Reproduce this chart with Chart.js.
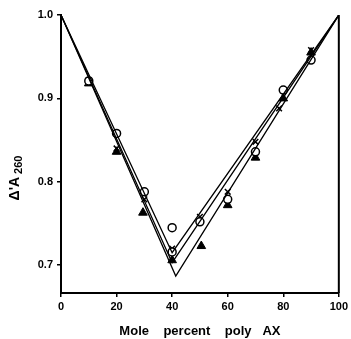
<!DOCTYPE html>
<html>
<head>
<meta charset="utf-8">
<script src="https://cdn.jsdelivr.net/npm/chart.js@4"></script>
<style>
  html, body { margin: 0; padding: 0; background: #fff; }
  #wrap { width: 351px; height: 339px; }
</style>
</head>
<body>
<div id="wrap"><canvas id="chart"></canvas></div>
<script>
// values
const circleX = [10, 20, 30, 40, 40, 50, 60, 70, 80, 90];
const circleY = [0.921, 0.858, 0.788, 0.745, 0.716, 0.752, 0.779, 0.836, 0.910, 0.946];

const triangleX = [10, 20, 29.5, 40, 50.5, 60, 70, 80, 90];
const triangleY = [0.918, 0.836, 0.763, 0.706, 0.723, 0.772, 0.829, 0.900, 0.955];

const crossX = [10, 20, 30, 40, 50, 60, 70, 78.5, 90];
const crossY = [0.922, 0.840, 0.779, 0.720, 0.758, 0.788, 0.848, 0.888, 0.958];

// fitted V lines
const lineXs = [[0, 40, 100], [0, 40, 100], [0, 41.3, 100]];
const lineYs = [[1.0, 0.715, 1.0], [1.0, 0.703, 1.0], [1.0, 0.687, 1.0]];

const xTicks = [0, 20, 40, 60, 80, 100];
const xTickLabels = ['0', '20', '40', '60', '80', '100'];
const yTicks = [0.7, 0.8, 0.9, 1.0];
const yTickLabels = ['0.7', '0.8', '0.9', '1.0'];

const pts = (xs, ys) => xs.map((x, i) => ({ x: x, y: ys[i] }));
const tickFont = { family: 'Liberation Sans', size: 11, weight: 'bold' };

const lineSets = lineXs.map((xs, i) => ({
  type: 'line',
  data: pts(xs, lineYs[i]),
  borderColor: '#000',
  borderWidth: 1.3,
  pointRadius: 0,
  fill: false,
  tension: 0,
}));

const frame = {
  id: 'frame',
  afterDraw(chart) {
    const { ctx, chartArea } = chart;
    ctx.save();
    // right border
    ctx.strokeStyle = '#000';
    ctx.lineWidth = 2;
    ctx.beginPath();
    ctx.moveTo(chartArea.right, chartArea.top);
    ctx.lineTo(chartArea.right, chartArea.bottom);
    ctx.stroke();
    // y title with subscript
    ctx.translate(15, 178);
    ctx.rotate(-Math.PI / 2);
    ctx.fillStyle = '#000';
    ctx.textBaseline = 'middle';
    ctx.font = 'bold 14px Liberation Sans';
    const main = "Δ'A";
    const w1 = ctx.measureText(main).width;
    ctx.font = 'bold 11px Liberation Sans';
    const w2 = ctx.measureText('260').width;
    const start = -(w1 + w2 + 3) / 2;
    ctx.font = 'bold 14px Liberation Sans';
    ctx.fillText(main, start, 0);
    ctx.font = 'bold 11px Liberation Sans';
    ctx.fillText('260', start + w1 + 3, 4);
    ctx.restore();
  }
};

new Chart(document.getElementById('chart'), {
  type: 'scatter',
  data: {
    datasets: [
      ...lineSets,
      {
        data: pts(circleX, circleY),
        pointStyle: 'circle',
        pointRadius: 4,
        backgroundColor: '#fff',
        borderColor: '#000',
        borderWidth: 1.5,
      },
      {
        data: pts(triangleX, triangleY),
        pointStyle: 'triangle',
        pointRadius: 5,
        backgroundColor: '#000',
        borderColor: '#000',
        borderWidth: 1,
      },
      {
        data: pts(crossX, crossY),
        pointStyle: 'crossRot',
        pointRadius: 4,
        borderColor: '#000',
        borderWidth: 1.5,
      },
    ]
  },
  options: {
    responsive: true,
    maintainAspectRatio: false,
    animation: false,
    layout: { padding: { left: 0, right: 10, top: 15, bottom: 0 } },
    plugins: { legend: { display: false }, tooltip: { enabled: false } },
    scales: {
      x: {
        type: 'linear',
        min: 0,
        max: 100,
        afterBuildTicks: (s) => { s.ticks = xTicks.map(v => ({ value: v })); },
        afterFit: (s) => { s.height = 46; },
        ticks: {
          color: '#000',
          font: tickFont,
          padding: 3,
          maxRotation: 0,
          callback: (v) => xTickLabels[xTicks.indexOf(v)],
        },
        grid: { display: true, drawOnChartArea: false, drawTicks: true, tickLength: 4, color: '#000', lineWidth: 1.5 },
        border: { display: true, color: '#000', width: 2 },
        title: {
          display: true,
          text: 'Mole    percent    poly   AX',
          color: '#000',
          font: { family: 'Liberation Sans', size: 13, weight: 'bold' },
          padding: { top: 0, bottom: 0 },
        },
      },
      y: {
        min: 0.6667,
        max: 1.0,
        afterBuildTicks: (s) => { s.ticks = yTicks.map(v => ({ value: v })); },
        afterFit: (s) => { s.width = 61; },
        ticks: {
          color: '#000',
          font: tickFont,
          padding: 4,
          callback: (v) => yTickLabels[yTicks.indexOf(v)],
        },
        grid: { display: true, drawOnChartArea: false, drawTicks: true, tickLength: 4, color: '#000', lineWidth: 1.5 },
        border: { display: true, color: '#000', width: 2 },
      },
    },
  },
  plugins: [frame],
});
</script>
</body>
</html>
